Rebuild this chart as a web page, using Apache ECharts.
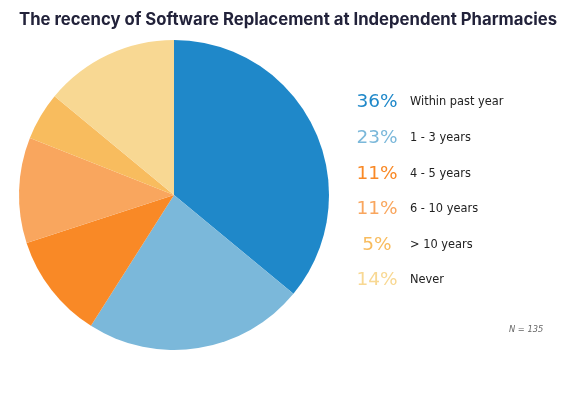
<!DOCTYPE html>
<html><head><meta charset="utf-8">
<script src="https://cdn.jsdelivr.net/npm/echarts@6/dist/echarts.min.js"></script>
<style>html,body{margin:0;padding:0;background:#fff}#c{width:569px;height:396px}</style>
</head><body><div id="c"></div>
<script>
var categories = ['Within past year', '1 - 3 years', '4 - 5 years', '6 - 10 years', '> 10 years', 'Never'];
var values = [36, 23, 11, 11, 5, 14];
var colors = ['#1f88c9', '#7bb8da', '#f98926', '#f9a65e', '#f8bc5e', '#f8d893'];
var sampleSize = 135;

var rich = { n: { fontFamily: 'DejaVu Sans', fontSize: 11.4, color: '#222', padding: [0, 0, 0, 8] } };
colors.forEach(function (c, i) {
  rich['p' + i] = { fontFamily: 'DejaVu Sans', fontSize: 18.5, color: c, width: 50, align: 'right' };
});

var chart = echarts.init(document.getElementById('c'), null, { renderer: 'canvas' });
chart.setOption({
  animation: false,
  color: colors,
  title: [{
    text: 'The recency of Software Replacement at Independent Pharmacies',
    left: 14, top: 6,
    textStyle: { fontFamily: 'Inter', fontWeight: 'bold', fontSize: 16.7, color: '#22223a' }
  }, {
    text: 'N = ' + sampleSize,
    left: 504, top: 321,
    textStyle: { fontFamily: 'DejaVu Sans', fontStyle: 'italic', fontWeight: 'normal', fontSize: 8.3, color: '#666' }
  }],
  legend: {
    orient: 'vertical', left: 342, top: 88,
    icon: 'none', itemWidth: 0, itemHeight: 18, itemGap: 16.6,
    selectedMode: false,
    data: categories,
    formatter: function (name) {
      var i = categories.indexOf(name);
      return '{p' + i + '|' + values[i] + '%}{n|' + name + '}';
    },
    textStyle: { rich: rich }
  },
  series: [{
    type: 'pie',
    center: [174, 195], radius: 155,
    startAngle: 90, clockwise: true,
    label: { show: false }, labelLine: { show: false },
    itemStyle: { borderWidth: 0 },
    emphasis: { disabled: true },
    data: categories.map(function (c, i) { return { name: c, value: values[i] }; })
  }]
});
</script></body></html>
